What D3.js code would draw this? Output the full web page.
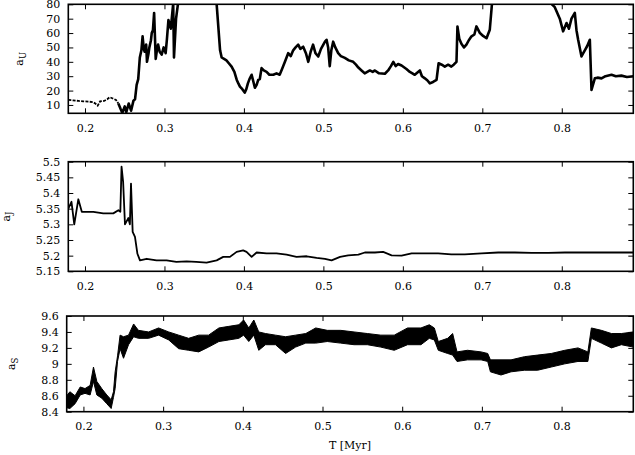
<!DOCTYPE html>
<html lang="en">
<head>
  <meta charset="UTF-8">
  <title>Semi-major axes vs time</title>
  <script src="https://d3js.org/d3.v7.min.js"></script>
  <style>
    * { margin: 0; padding: 0; }
    body { background: #fff; width: 635px; height: 455px; overflow: hidden; }
    svg { display: block; }
    .axis text, .lbl { font-family: 'DejaVu Serif', serif; font-size: 11px; fill: #000; }
    .axis line { stroke: #000; stroke-width: 1; }
    .axis path { display: none; }
  </style>
</head>
<body>
<svg id="chart" width="635" height="455"></svg>
<script>
  // x ticks shared by all panels
  const xTicks = [0.2, 0.3, 0.4, 0.5, 0.6, 0.7, 0.8];
  const xTickLabels = ["0.2", "0.3", "0.4", "0.5", "0.6", "0.7", "0.8"];

  // panel 1: a_U (values above 80 run off the top of the frame)
  const tU = [0.179, 0.185, 0.192, 0.198, 0.205, 0.210, 0.213, 0.216, 0.219, 0.224, 0.228, 0.231, 0.235, 0.239,
    0.242, 0.245, 0.247, 0.250, 0.252, 0.255, 0.258, 0.261, 0.263, 0.265, 0.267, 0.269, 0.271, 0.2725, 0.274,
    0.275, 0.277, 0.278, 0.280, 0.281, 0.283, 0.284, 0.2855, 0.287, 0.289, 0.2905, 0.292, 0.294, 0.2965,
    0.299, 0.3015, 0.303, 0.305, 0.308, 0.311, 0.312, 0.3146, 0.3174,
    0.325, 0.34, 0.355, 0.3657, 0.370, 0.372, 0.375, 0.378, 0.381, 0.3845, 0.388, 0.391, 0.393, 0.395,
    0.398, 0.401, 0.403, 0.405, 0.407, 0.4097, 0.412, 0.4138, 0.416, 0.418, 0.420, 0.4222, 0.425, 0.4285,
    0.432, 0.437, 0.441, 0.445, 0.448, 0.4516, 0.4557, 0.459, 0.462, 0.465, 0.4683, 0.471, 0.4746, 0.478,
    0.481, 0.484, 0.487, 0.490, 0.4935, 0.497, 0.502, 0.504, 0.506, 0.508, 0.510, 0.5123, 0.515, 0.5186,
    0.522, 0.527, 0.532, 0.5375, 0.541, 0.544, 0.548, 0.552, 0.5585, 0.562, 0.5648, 0.570, 0.5774, 0.5815,
    0.585, 0.588, 0.591, 0.594, 0.5984, 0.6045, 0.6088, 0.612, 0.615, 0.6214, 0.624, 0.6277, 0.631, 0.634,
    0.638, 0.6424, 0.645, 0.649, 0.6528, 0.657, 0.661, 0.664, 0.6675, 0.6687, 0.671, 0.6737, 0.677, 0.680,
    0.683, 0.6864, 0.690, 0.6926, 0.697, 0.701, 0.7053, 0.7094, 0.7124, 0.73, 0.76, 0.7912,
    0.7975, 0.8017, 0.806, 0.809, 0.8122, 0.8164, 0.8185, 0.8206, 0.8248, 0.827, 0.829, 0.832, 0.8353,
    0.8374, 0.8416, 0.845, 0.85, 0.855, 0.8626, 0.868, 0.875, 0.882, 0.89];
  const aU = [13.5, 13.2, 12.8, 12.5, 12.3, 12.0, 11.0, 9.5, 12.5, 12.8, 14.0, 15.4, 14.5, 13.5,
    11, 7, 4.5, 9, 5, 11, 6, 13, 14, 24, 28, 43, 48, 57.7, 49,
    47, 52, 40, 46, 50, 55, 60, 62, 74, 42, 48, 52, 47, 45,
    50, 46, 55, 69, 63, 80.5, 43, 70, 82,
    95, 95, 95, 80, 48, 43, 42, 41, 39, 36.7, 33, 27.4, 25, 22.8,
    21, 18.6, 21, 25, 28, 31, 26, 22, 24, 27.4, 28, 35.6, 34, 33,
    31, 31, 32, 31, 35, 40, 46, 44, 48, 50, 51.9, 49, 50.5, 46,
    40, 47, 51.9, 46, 43.7, 49, 54, 55.3, 50, 37, 48, 54, 50, 46,
    44, 42.7, 41, 40, 38, 36, 34, 32, 34, 33, 34, 32, 31.7, 34,
    37, 40, 37, 38.5, 37.4, 35, 33, 32, 31, 34, 30, 28.5, 27, 25,
    26, 27.4, 39, 38, 36.7, 38, 36.7, 38, 40, 64.6, 56, 52.6, 50, 51.9,
    55, 57.7, 59, 64.6, 60, 58, 56.4, 62.3, 82, 95, 95, 78,
    70, 61.2, 67, 63, 70, 74, 62, 55.3, 43.7, 46, 48, 51, 55.3,
    20.5, 28.5, 29, 28.5, 30, 31, 30, 30.4, 29.5, 30];
  const uTicks = [10, 20, 30, 40, 50, 60, 70, 80];
  const dashedUntil = 0.242;

  // panel 2: a_J
  const tJ = [0.179, 0.183, 0.1865, 0.1916, 0.196, 0.2105, 0.223, 0.2356, 0.242, 0.2445, 0.246, 0.248,
    0.2503, 0.2545, 0.2565, 0.2579, 0.26, 0.2629, 0.266, 0.2692, 0.2776, 0.29, 0.3027, 0.315, 0.3279,
    0.34, 0.353, 0.3657, 0.374, 0.3824, 0.3908, 0.399, 0.4033, 0.4097, 0.416, 0.4285, 0.441, 0.4537,
    0.4662, 0.479, 0.4915, 0.502, 0.5103, 0.521, 0.5312, 0.544, 0.5522, 0.5648, 0.5752, 0.5858, 0.5984,
    0.611, 0.6277, 0.6444, 0.661, 0.678, 0.699, 0.72, 0.741, 0.762, 0.783, 0.804, 0.8248, 0.8457,
    0.8667, 0.89];
  const aJ = [5.35, 5.372, 5.30, 5.38, 5.34, 5.34, 5.335, 5.335, 5.345, 5.34, 5.484, 5.436,
    5.30, 5.32, 5.30, 5.43, 5.276, 5.26, 5.206, 5.185, 5.19, 5.185, 5.185, 5.18, 5.182,
    5.18, 5.178, 5.185, 5.196, 5.196, 5.212, 5.217, 5.212, 5.196, 5.21, 5.207, 5.207, 5.203,
    5.196, 5.198, 5.193, 5.19, 5.185, 5.196, 5.201, 5.203, 5.21, 5.21, 5.212, 5.201, 5.2,
    5.207, 5.207, 5.207, 5.204, 5.204, 5.207, 5.21, 5.21, 5.209, 5.209, 5.21, 5.21, 5.21,
    5.21, 5.21];
  const jTicks = [5.15, 5.2, 5.25, 5.3, 5.35, 5.4, 5.45, 5.5];

  // panel 3: a_S, lower and upper edge of the noisy band
  const tS = [0.179, 0.183, 0.1895, 0.196, 0.202, 0.2084, 0.2126, 0.2168, 0.223, 0.2293, 0.2348, 0.2377,
    0.2398, 0.2428, 0.246, 0.2503, 0.2566, 0.263, 0.269, 0.2818, 0.2943, 0.307, 0.3195, 0.332, 0.3447,
    0.357, 0.37, 0.3824, 0.395, 0.401, 0.4075, 0.4138, 0.42, 0.4285, 0.441, 0.4537, 0.4662, 0.479,
    0.4915, 0.506, 0.5228, 0.5396, 0.5563, 0.5732, 0.59, 0.6067, 0.6235, 0.634, 0.6403, 0.6453, 0.657,
    0.6633, 0.6688, 0.682, 0.699, 0.7073, 0.7107, 0.724, 0.7366, 0.7534, 0.77, 0.787, 0.804, 0.8206,
    0.833, 0.8374, 0.85, 0.8626, 0.875, 0.89];
  const sLo = [8.45, 8.44, 8.50, 8.61, 8.63, 8.61, 8.78, 8.61, 8.57, 8.50, 8.44, 8.58,
    8.69, 9.03, 9.19, 9.07, 9.24, 9.34, 9.32, 9.32, 9.36, 9.30, 9.19, 9.17, 9.15,
    9.21, 9.28, 9.30, 9.32, 9.36, 9.28, 9.36, 9.17, 9.24, 9.24, 9.13, 9.21, 9.26,
    9.26, 9.28, 9.26, 9.24, 9.24, 9.21, 9.17, 9.24, 9.24, 9.32, 9.30, 9.17, 9.13,
    9.11, 9.03, 9.05, 9.05, 9.03, 8.90, 8.86, 8.90, 8.92, 8.92, 8.96, 9.00, 9.03,
    9.03, 9.32, 9.26, 9.20, 9.24, 9.21];
  const sHi = [8.60, 8.65, 8.60, 8.71, 8.69, 8.73, 8.96, 8.78, 8.69, 8.61, 8.55, 8.65,
    8.90, 9.10, 9.36, 9.34, 9.36, 9.50, 9.42, 9.40, 9.45, 9.40, 9.36, 9.32, 9.36,
    9.36, 9.45, 9.47, 9.49, 9.55, 9.45, 9.55, 9.40, 9.38, 9.36, 9.34, 9.36, 9.38,
    9.45, 9.42, 9.42, 9.40, 9.38, 9.36, 9.36, 9.45, 9.45, 9.49, 9.45, 9.28, 9.32,
    9.38, 9.15, 9.17, 9.15, 9.13, 9.05, 9.05, 9.05, 9.09, 9.11, 9.13, 9.17, 9.20,
    9.15, 9.45, 9.42, 9.38, 9.38, 9.40];
  const sTicks = [8.4, 8.6, 8.8, 9, 9.2, 9.4, 9.6];

  const svg = d3.select("#chart");
  const xDomain = [0.179, 0.89];

  function panel(id, box, yDomain, yTicks, label, sub, labelX) {
    const x = d3.scaleLinear().domain(xDomain).range([box.left, box.right]);
    const y = d3.scaleLinear().domain(yDomain).range([box.bottom, box.top]);
    const g = svg.append("g");

    g.append("clipPath").attr("id", "clip-" + id)
      .append("rect")
      .attr("x", box.left).attr("y", box.top)
      .attr("width", box.right - box.left).attr("height", box.bottom - box.top);

    g.append("g").attr("class", "axis")
      .attr("transform", `translate(0,${box.bottom})`)
      .call(d3.axisBottom(x).tickValues(xTicks).tickSize(-5).tickSizeOuter(0).tickPadding(10.5)
        .tickFormat((d, i) => xTickLabels[i]));
    g.append("g").attr("class", "axis")
      .attr("transform", `translate(0,${box.top})`)
      .call(d3.axisTop(x).tickValues(xTicks).tickSize(-5).tickSizeOuter(0).tickFormat(""));
    g.append("g").attr("class", "axis")
      .attr("transform", `translate(${box.left},0)`)
      .call(d3.axisLeft(y).tickValues(yTicks).tickSize(-5).tickSizeOuter(0).tickPadding(8)
        .tickFormat(d => String(d)));
    g.append("g").attr("class", "axis")
      .attr("transform", `translate(${box.right},0)`)
      .call(d3.axisRight(y).tickValues(yTicks).tickSize(-5).tickSizeOuter(0).tickFormat(""));

    const t = g.append("text").attr("class", "lbl")
      .attr("transform", `translate(${labelX},${(box.top + box.bottom) / 2}) rotate(-90)`)
      .attr("text-anchor", "middle");
    t.append("tspan").text(label);
    t.append("tspan").attr("dy", "0.3em").style("font-size", "8.5px").text(sub);

    const plot = g.append("g").attr("clip-path", `url(#clip-${id})`);
    return { x, y, g, plot };
  }

  // panel 1
  const p1 = panel("u", { left: 68.3, right: 633.3, top: 4.3, bottom: 113.3 }, [4.2, 80], uTicks, "a", "U", 23);
  const ptsU = tU.map((t, i) => ({ t, v: aU[i] }));
  const lineU = d3.line().x(d => p1.x(d.t)).y(d => p1.y(d.v));
  p1.plot.append("path")
    .attr("d", lineU(ptsU.filter(d => d.t <= dashedUntil)))
    .attr("fill", "none").attr("stroke", "#000").attr("stroke-width", 1.8)
    .attr("stroke-dasharray", "3,1.3");
  p1.plot.append("path")
    .attr("d", lineU(ptsU.filter(d => d.t >= dashedUntil)))
    .attr("fill", "none").attr("stroke", "#000").attr("stroke-width", 2.6)
    .attr("stroke-linejoin", "round");

  // panel 2
  const p2 = panel("j", { left: 68.3, right: 633.3, top: 161.7, bottom: 271.3 }, [5.15, 5.5], jTicks, "a", "J", 9.5);
  const lineJ = d3.line().x((d, i) => p2.x(tJ[i])).y(d => p2.y(d));
  p2.plot.append("path")
    .attr("d", lineJ(aJ))
    .attr("fill", "none").attr("stroke", "#000").attr("stroke-width", 1.8)
    .attr("stroke-linejoin", "round");

  // panel 3
  const p3 = panel("s", { left: 66.7, right: 633.3, top: 316, bottom: 411.7 }, [8.4, 9.6], sTicks, "a", "S", 15);
  const areaS = d3.area()
    .x((d, i) => p3.x(tS[i]))
    .y0((d, i) => p3.y(sLo[i]))
    .y1((d, i) => p3.y(sHi[i]));
  p3.plot.append("path")
    .attr("d", areaS(tS))
    .attr("fill", "#000").attr("stroke", "#000").attr("stroke-width", 1)
    .attr("stroke-linejoin", "round");

  // frames drawn last so they sit on top of the curves
  [[p1, 68.3, 4.3, 113.3], [p2, 68.3, 161.7, 271.3], [p3, 66.7, 316, 411.7]].forEach(([p, l, tp, b]) => {
    p.g.append("rect")
      .attr("x", l).attr("y", tp)
      .attr("width", 633.3 - l).attr("height", b - tp)
      .attr("fill", "none").attr("stroke", "#000").attr("stroke-width", 1.6);
  });

  svg.append("text").attr("class", "lbl")
    .attr("x", 350).attr("y", 449)
    .attr("text-anchor", "middle")
    .text("T [Myr]");
</script>
</body>
</html>
